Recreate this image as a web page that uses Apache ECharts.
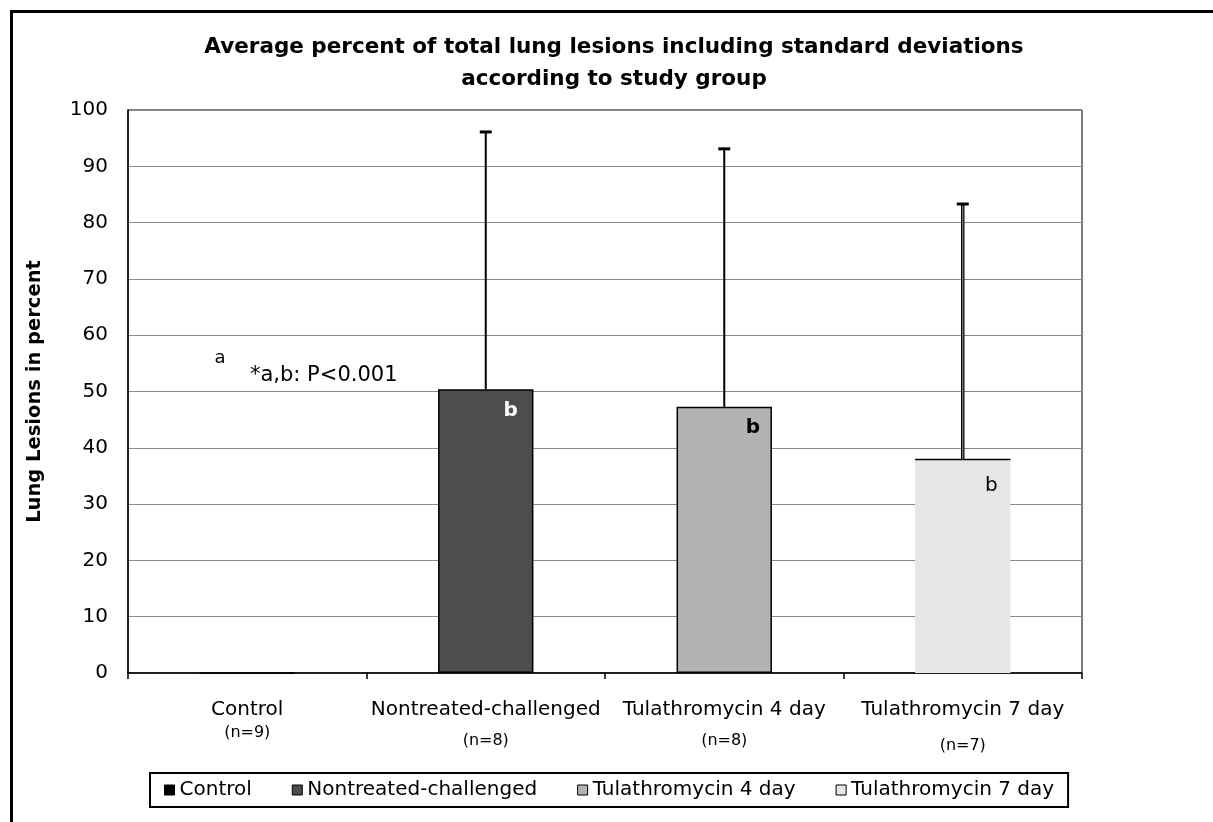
<!DOCTYPE html>
<html><head><meta charset="utf-8">
<script src="https://cdn.jsdelivr.net/npm/echarts@6/dist/echarts.min.js"></script>
<style>html,body{margin:0;padding:0;background:#fff}#c{width:1213px;height:822px}</style>
</head><body><div id="c"></div>
<script>
const categories = ['Control', 'Nontreated-challenged', 'Tulathromycin 4 day', 'Tulathromycin 7 day'];
const groupSizes = ['(n=9)', '(n=8)', '(n=8)', '(n=7)'];
const meanLesions = [0, 50.4, 47.3, 37.9];
const stdDev = [0, 45.7, 45.8, 45.4];
const sigLetters = ['a', 'b', 'b', 'b'];
const yAxisTitle = 'Lung Lesions in percent';
const chartTitle = 'Average percent of total lung lesions including standard deviations\naccording to study group';
const pNote = '*a,b: P<0.001';

const FONT = 'DejaVu Sans';
const palette = ['#000000', '#4d4d4d', '#b3b3b3', '#e6e6e6'];
const labelPos = [['76%', 22], ['76%', 22], ['80%', 21], ['80%', 26]];
const labelStyle = [
  {color: '#000', fontWeight: 'normal'},
  {color: '#fff', fontWeight: 'bold'},
  {color: '#000', fontWeight: 'bold'},
  {color: '#000', fontWeight: 'normal'}
];
const nStyles = ['n0', 'n1', 'n2', 'n3'];
const nLineHeights = [22, 38, 38, 48];

const chart = echarts.init(document.getElementById('c'), null, {renderer: 'canvas'});

const richStyles = {m: {fontFamily: FONT, fontSize: 20, color: '#000', lineHeight: 24}};
nStyles.forEach((s, i) => { richStyles[s] = {fontFamily: FONT, fontSize: 16, color: '#000', lineHeight: nLineHeights[i]}; });

const barSeries = categories.map((name, i) => ({
  name: name,
  type: 'bar',
  barGap: '-100%',
  barWidth: '40%',
  data: categories.map((c, j) => (j === i ? meanLesions[j] : '-')),
  itemStyle: {
    color: palette[i],
    borderColor: i === 3 ? 'rgba(0,0,0,0)' : '#000',
    borderWidth: i === 3 ? 0 : 1.5
  },
  label: {
    show: i > 0,
    formatter: sigLetters[i],
    position: labelPos[i],
    align: 'center',
    verticalAlign: 'middle',
    fontFamily: FONT,
    fontSize: 20,
    color: labelStyle[i].color,
    fontWeight: labelStyle[i].fontWeight
  },
  z: 2
}));

const errSeries = {
  name: 'SD',
  type: 'custom',
  z: 5,
  encode: {x: 0, y: [1, 2]},
  data: categories.map((c, i) => [i, meanLesions[i], meanLesions[i] + stdDev[i]]),
  renderItem: function (params, api) {
    const idx = api.value(0), lo = api.value(1), hi = api.value(2);
    if (hi <= lo) return null;
    const p0 = api.coord([idx, lo]);
    const p1 = api.coord([idx, hi]);
    const bw = api.size([1, 0])[0] * 0.4;
    const children = [];
    if (idx === 3) {
      children.push({type: 'line', shape: {x1: p0[0] - bw / 2, y1: p0[1], x2: p0[0] + bw / 2, y2: p0[1]}, style: {stroke: '#000', lineWidth: 1.5}});
      children.push({type: 'line', shape: {x1: p0[0], y1: p0[1], x2: p1[0], y2: p1[1]}, style: {stroke: '#000', lineWidth: 3.5}});
      children.push({type: 'line', shape: {x1: p0[0], y1: p0[1], x2: p1[0], y2: p1[1] + 2}, style: {stroke: '#8c8c8c', lineWidth: 1.2}});
    } else {
      children.push({type: 'line', shape: {x1: p0[0], y1: p0[1], x2: p1[0], y2: p1[1]}, style: {stroke: '#000', lineWidth: 2}});
    }
    children.push({type: 'line', shape: {x1: p1[0] - 6, y1: p1[1], x2: p1[0] + 6, y2: p1[1]}, style: {stroke: '#000', lineWidth: 3}});
    return {type: 'group', children: children};
  }
};

chart.setOption({
  animation: false,
  backgroundColor: '#fff',
  title: {
    text: chartTitle,
    left: 614,
    top: 31,
    padding: 0,
    textAlign: 'center',
    textStyle: {fontFamily: FONT, fontWeight: 'bold', fontSize: 21.5, lineHeight: 32, color: '#000'}
  },
  grid: {left: 128, right: 131, top: 110, bottom: 149, show: true, borderColor: '#000', borderWidth: 1, backgroundColor: 'transparent'},
  xAxis: {
    type: 'category',
    data: categories,
    axisLine: {show: true, lineStyle: {color: '#000', width: 1.5}},
    axisTick: {show: true, length: 6, lineStyle: {color: '#000', width: 1.5}},
    splitLine: {show: false},
    axisLabel: {
      interval: 0,
      margin: 25,
      formatter: function (v, i) { return '{m|' + v + '}\n{' + nStyles[i] + '|' + groupSizes[i] + '}'; },
      rich: richStyles
    }
  },
  yAxis: {
    type: 'value',
    min: 0, max: 100, interval: 10,
    name: yAxisTitle,
    nameLocation: 'middle',
    nameGap: 83,
    nameTextStyle: {fontFamily: FONT, fontWeight: 'bold', fontSize: 19.5, color: '#000'},
    axisLine: {show: true, lineStyle: {color: '#000', width: 1.5}},
    axisTick: {show: false},
    splitLine: {show: true, lineStyle: {color: '#8a8a8a', width: 1}},
    axisLabel: {fontFamily: FONT, fontSize: 20, color: '#000', margin: 20}
  },
  legend: {
    data: categories,
    left: 150,
    top: 773,
    padding: [7, 14],
    borderColor: '#000',
    borderWidth: 2,
    itemGap: 40,
    itemWidth: 10,
    itemHeight: 10,
    icon: 'rect',
    itemStyle: {borderColor: '#000', borderWidth: 1},
    textStyle: {fontFamily: FONT, fontSize: 20, color: '#000'}
  },
  graphic: [
    {type: 'polyline', shape: {points: [[11.5, 822], [11.5, 11.5], [1213, 11.5]]}, style: {stroke: '#000', lineWidth: 3, fill: null}, silent: true},
    {type: 'text', x: 220, y: 358, style: {text: sigLetters[0], fontFamily: FONT, fontSize: 18, fill: '#000', textAlign: 'center', textVerticalAlign: 'middle'}},
    {type: 'text', x: 250, y: 376, style: {text: pNote, fontFamily: FONT, fontSize: 21, fill: '#000', textAlign: 'left', textVerticalAlign: 'middle'}}
  ],
  series: barSeries.concat([errSeries])
});
</script>
</body></html>
